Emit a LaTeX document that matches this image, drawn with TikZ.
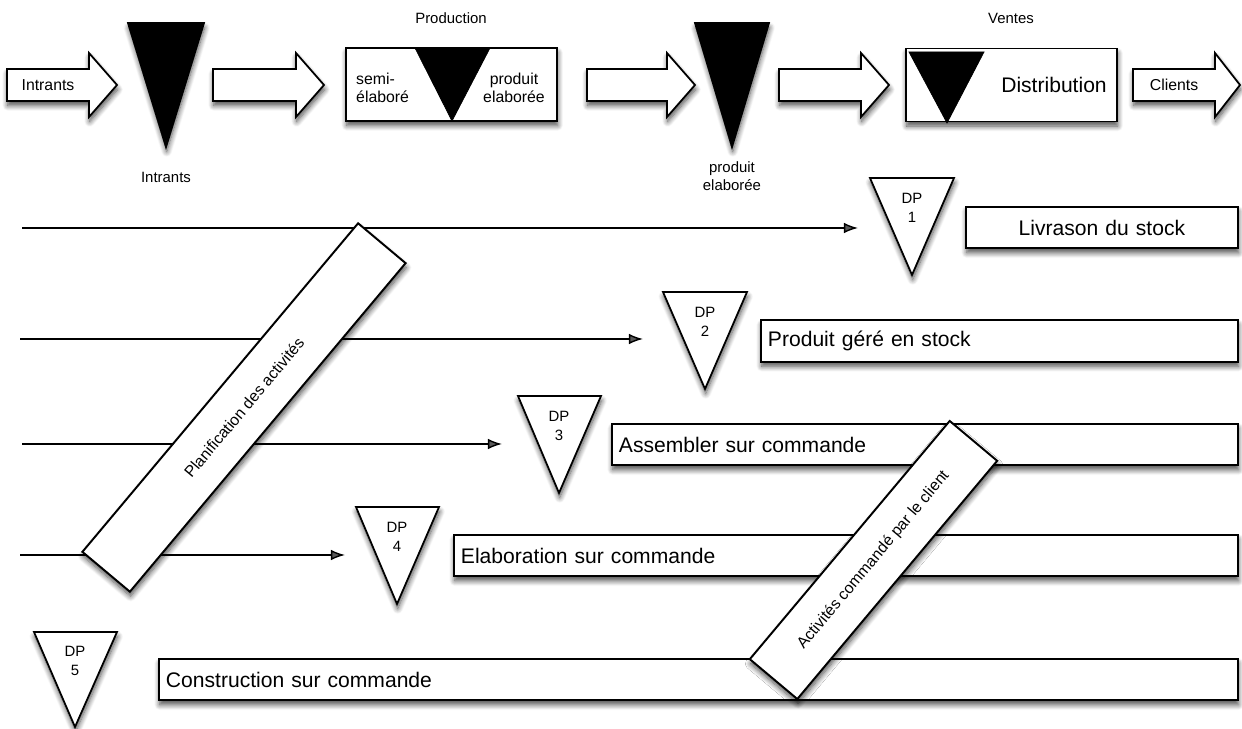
\documentclass[tikz,border=0pt]{standalone}
\usepackage{fontspec}
\setmainfont{Liberation Sans}
\usetikzlibrary{positioning}
\usetikzlibrary{arrows.meta,shadows.blur}

\tikzset{
  shade/.style={blur shadow={shadow xshift=0.4pt,shadow yshift=-2.6pt,shadow blur radius=3pt,shadow blur steps=8,shadow opacity=70}},
  fatarrow/.style={draw,fill=white,line width=1pt,shade},
  stockpt/.style={draw,fill=black,line width=1pt,shade},
  dptri/.style={draw,fill=white,line width=1pt,shade},
  lane/.style={draw,fill=white,line width=1.1pt,shade,anchor=west,minimum height=0.83cm,inner xsep=4pt,align=left,font=\fontsize{12pt}{14pt}\selectfont},
  bar/.style={draw,fill=white,line width=1.1pt,shade,rotate=50,minimum height=1.24cm,font=\fontsize{9pt}{10pt}\selectfont},
  small/.style={font=\fontsize{8.5pt}{10.5pt}\selectfont,align=center},
  flow/.style={line width=0.8pt,-{Latex[length=8pt,width=6pt]}}
}

\begin{document}
\begin{tikzpicture}[x=0.02cm,y=-0.02cm]
 \useasboundingbox (0,0) rectangle (1242,729);
 % flux du haut
 \draw[fatarrow](7,69)--(89,69)--(89,53)--(117,85)--(89,117)--(89,101)--(7,101)--cycle;
 \node[small,font=\fontsize{9pt}{11pt}\selectfont] (intr) at (48,85) {Intrants};
 \draw[stockpt](128,23)--(204,23)--(166,147)--cycle;
 \node[small] (intrlab) at (166,177) {Intrants};
 \draw[fatarrow](213,69)--(296,69)--(296,53)--(324,85)--(296,117)--(296,101)--(213,101)--cycle;
 \node[draw,fill=white,line width=1.1pt,shade,minimum width=4.22cm,minimum height=1.46cm] (prod) at (451.5,84.5) {};
 \draw[fill=black](415,48)--(490,48)--(452,121)--cycle;
 \node[small] (prodlab) at (451,18) {Production};
 \node[anchor=west,align=left,font=\fontsize{9pt}{10pt}\selectfont] (semi) at (350,88) {semi-\\élaboré};
 \node[align=center,font=\fontsize{9pt}{10pt}\selectfont] (prodel) at (514,88) {produit\\elaborée};
 \draw[fatarrow](587,69)--(667,69)--(667,53)--(695,85)--(667,117)--(667,101)--(587,101)--cycle;
 \draw[stockpt](695,23)--(769,23)--(732,147)--cycle;
 \node[small] (pelab) at (732,176) {produit\\elaborée};
 \draw[fatarrow](779,69)--(861,69)--(861,53)--(889,85)--(861,117)--(861,101)--(779,101)--cycle;
 \node[draw,fill=white,line width=1.1pt,shade,minimum width=4.22cm,minimum height=1.46cm] (vent) at (1011.5,85) {};
 \draw[fill=black](909,52)--(984,52)--(947,123)--cycle;
 \node[small] (ventlab) at (1011,18) {Ventes};
 \node[font=\fontsize{12pt}{14pt}\selectfont] (distr) at (1054,85) {Distribution};
 \draw[fatarrow](1133,69)--(1215,69)--(1215,53)--(1240,85)--(1215,117)--(1215,101)--(1133,101)--cycle;
 \node[small,font=\fontsize{9pt}{11pt}\selectfont] (cli) at (1174,85) {Clients};
 % fleches vers les points de decouplage
 \coordinate (s1) at (22,228);  \coordinate (e1) at (858,228);
 \coordinate (s2) at (20,339);  \coordinate (e2) at (643,339);
 \coordinate (s3) at (22,444);  \coordinate (e3) at (502,444);
 \coordinate (s4) at (20,555);  \coordinate (e4) at (345,555);
 \draw[flow](s1)--(e1);
 \draw[flow](s2)--(e2);
 \draw[flow](s3)--(e3);
 \draw[flow](s4)--(e4);
 % DP
 \draw[dptri](870,178)--(954,178)--(912,275)--cycle;
 \node[small] (dp1) at (912,208) {DP\\1};
 \draw[dptri](663,292)--(747,292)--(705,389)--cycle;
 \node[small] (dp2) at (705,322) {DP\\2};
 \draw[dptri](518,396)--(601,396)--(559,493)--cycle;
 \node[small] (dp3) at (559,426) {DP\\3};
 \draw[dptri](356,507)--(439,507)--(397,604)--cycle;
 \node[small] (dp4) at (397,537) {DP\\4};
 \draw[dptri](34,632)--(117,632)--(75,727)--cycle;
 \node[small] (dp5) at (75,661) {DP\\5};
 % couloirs
 \node[lane,text width=5.44cm-8pt,align=center] (livr) at (965,227.5) {Livrason du stock};
 \node[lane,text width=9.54cm-8pt] (gere) at (760,341) {Produit géré en stock};
 \node[lane,text width=12.52cm-8pt] (assem) at (611,444.5) {Assembler sur commande};
 \node[lane,text width=15.68cm-8pt] (elab) at (453,555.5) {Elaboration sur commande};
 \node[lane,text width=21.58cm-8pt] (constr) at (158,679.5) {Construction sur commande};
 % barres obliques
 \node[bar,minimum width=8.58cm] (planif) at (244,407.5) {Planification des activités};
 \node[bar,minimum width=6.22cm] (activ) at (873.5,560) {Activités commandé par le client};
\end{tikzpicture}
\end{document}
